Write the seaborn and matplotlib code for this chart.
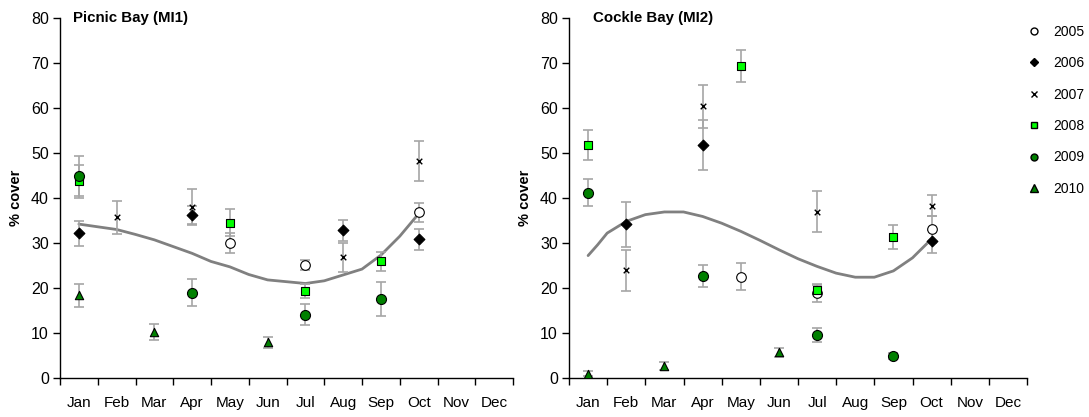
import numpy as np
import pandas as pd
import matplotlib
matplotlib.use("Agg")
import matplotlib.pyplot as plt
import seaborn as sns
from matplotlib.lines import Line2D

# ---------------- data ----------------
months = ["Jan", "Feb", "Mar", "Apr", "May", "Jun",
          "Jul", "Aug", "Sep", "Oct", "Nov", "Dec"]
years = ["2005", "2006", "2007", "2008", "2009", "2010"]

# Picnic Bay (MI1)
pb_2005_month = ["May", "Jul", "Oct"]
pb_2005_mean = [30.0, 25.1, 36.8]
pb_2005_err = [2.2, 1.2, 2.1]
pb_2006_month = ["Jan", "Apr", "Aug", "Oct"]
pb_2006_mean = [32.2, 36.2, 32.8, 30.8]
pb_2006_err = [2.8, 2.0, 2.3, 2.3]
pb_2007_month = ["Feb", "Apr", "Aug", "Oct"]
pb_2007_mean = [35.7, 38.0, 26.8, 48.2]
pb_2007_err = [3.6, 4.0, 3.2, 4.4]
pb_2008_month = ["Jan", "May", "Jul", "Sep"]
pb_2008_mean = [43.7, 34.5, 19.3, 25.9]
pb_2008_err = [3.6, 3.0, 1.6, 2.2]
pb_2009_month = ["Jan", "Apr", "Jul", "Sep"]
pb_2009_mean = [44.9, 19.0, 14.1, 17.5]
pb_2009_err = [4.4, 2.9, 2.4, 3.8]
pb_2010_month = ["Jan", "Mar", "Jun"]
pb_2010_mean = [18.4, 10.3, 7.9]
pb_2010_err = [2.6, 1.8, 1.2]
# trend line (month index, value)
pb_trend_x = [0, 0.5, 1, 1.5, 2, 2.5, 3, 3.5, 4, 4.5, 5, 5.5, 6, 6.5, 7, 7.5, 8, 8.5, 9]
pb_trend_y = [34.2, 33.6, 33.0, 31.9, 30.7, 29.2, 27.7, 25.9, 24.7, 23.0, 21.8, 21.4,
              21.0, 21.6, 22.9, 24.2, 27.3, 31.5, 36.5]

# Cockle Bay (MI2)
cb_2005_month = ["May", "Jul", "Oct"]
cb_2005_mean = [22.5, 18.9, 33.1]
cb_2005_err = [3.0, 2.0, 3.0]
cb_2006_month = ["Feb", "Apr", "Oct"]
cb_2006_mean = [34.2, 51.8, 30.4]
cb_2006_err = [5.0, 5.5, 2.6]
cb_2007_month = ["Feb", "Apr", "Jul", "Oct"]
cb_2007_mean = [23.9, 60.4, 37.0, 38.3]
cb_2007_err = [4.5, 4.8, 4.6, 2.4]
cb_2008_month = ["Jan", "May", "Jul", "Sep"]
cb_2008_mean = [51.8, 69.3, 19.6, 31.3]
cb_2008_err = [3.3, 3.6, 1.0, 2.6]
cb_2009_month = ["Jan", "Apr", "Jul", "Sep"]
cb_2009_mean = [41.2, 22.7, 9.6, 4.95]
cb_2009_err = [3.0, 2.5, 1.6, 0.7]
cb_2010_month = ["Jan", "Mar", "Jun"]
cb_2010_mean = [0.95, 2.6, 5.7]
cb_2010_err = [0.5, 0.9, 1.0]
cb_trend_x = [0, 0.25, 0.5, 1, 1.5, 2, 2.5, 3, 3.5, 4, 4.5, 5, 5.5, 6, 6.5, 7, 7.5, 8, 8.5, 9]
cb_trend_y = [27.2, 29.6, 32.2, 34.8, 36.3, 36.9, 36.9, 35.9, 34.4, 32.6, 30.6, 28.5, 26.5,
              24.8, 23.3, 22.4, 22.4, 23.8, 26.7, 30.9]

# ---------------- assemble ----------------
def build(prefix):
    g = globals()
    rows = []
    for yr in years:
        for m, v, e in zip(g[f"{prefix}_{yr}_month"], g[f"{prefix}_{yr}_mean"], g[f"{prefix}_{yr}_err"]):
            rows.append({"year": yr, "month": m, "x": months.index(m), "cover": v, "err": e})
    return pd.DataFrame(rows)

df_pb = build("pb")
df_cb = build("cb")

styles = {
    "2005": dict(marker="o", color="white", edgecolor="black", s=48),
    "2006": dict(marker="D", color="black", edgecolor="black", s=30),
    "2007": dict(marker="x", color="black", s=16),
    "2008": dict(marker="s", color="#00ff00", edgecolor="black", s=28),
    "2009": dict(marker="o", color="#008000", edgecolor="black", s=52),
    "2010": dict(marker="^", color="#008000", edgecolor="black", s=36),
}

sns.set_style("ticks")
plt.rcParams["font.family"] = ["Liberation Sans", "DejaVu Sans"]
plt.rcParams["text.color"] = "black"
plt.rcParams["axes.labelcolor"] = "black"
plt.rcParams["xtick.color"] = "black"
plt.rcParams["ytick.color"] = "black"
plt.rcParams["axes.edgecolor"] = "black"

fig = plt.figure(figsize=(10.89, 4.17), dpi=100)
ax1 = fig.add_axes([60 / 1089, 1 - 378 / 417, 453 / 1089, 360 / 417])
ax2 = fig.add_axes([569 / 1089, 1 - 378 / 417, 458 / 1089, 360 / 417])

panels = [(ax1, df_pb, pb_trend_x, pb_trend_y, "Picnic Bay (MI1)", 0.029),
          (ax2, df_cb, cb_trend_x, cb_trend_y, "Cockle Bay (MI2)", 0.052)]

for ax, df, tx, ty, title, tpos in panels:
    sns.lineplot(x=tx, y=ty, color="#808080", linewidth=2.0, ax=ax, zorder=1)
    ax.errorbar(df["x"], df["cover"], yerr=df["err"], fmt="none", ecolor="#a6a6a6",
                elinewidth=1.2, capsize=3.5, capthick=1.2, zorder=2)
    for yr in years:
        sub = df[df["year"] == yr]
        st = dict(styles[yr])
        if st["marker"] == "x":
            sns.scatterplot(data=sub, x="x", y="cover", marker="x", color="black",
                            s=st["s"], linewidth=1.0, ax=ax, zorder=3, legend=False)
        else:
            sns.scatterplot(data=sub, x="x", y="cover", marker=st["marker"], color=st["color"],
                            edgecolor=st["edgecolor"], linewidth=0.8, s=st["s"], ax=ax,
                            zorder=3, legend=False)
    ax.set_xlim(-0.5, 11.5)
    ax.set_ylim(0, 80)
    ax.set_yticks(np.arange(0, 81, 10))
    ax.set_xticks(range(12))
    ax.set_xticklabels(months)
    ax.set_xticks(np.arange(-0.5, 12, 1), minor=True)
    ax.tick_params(axis="x", which="major", length=0, pad=13, labelsize=11)
    ax.tick_params(axis="x", which="minor", length=5, width=1, direction="out")
    ax.tick_params(axis="y", length=5, width=1, direction="out", labelsize=11.5, pad=3)
    for sp in ["top", "right"]:
        ax.spines[sp].set_visible(False)
    for sp in ["left", "bottom"]:
        ax.spines[sp].set_linewidth(1.0)
        ax.spines[sp].set_color("black")
    ax.set_xlabel("")
    ax.set_ylabel("% cover", fontsize=10.5, fontweight="bold", labelpad=6)
    ax.text(tpos, 1.0, title, transform=ax.transAxes, fontsize=10.8, fontweight="bold",
            ha="left", va="center")

handles = [
    Line2D([], [], ls="none", marker="o", markerfacecolor="white", markeredgecolor="black", markersize=5),
    Line2D([], [], ls="none", marker="D", markerfacecolor="black", markeredgecolor="black", markersize=4.5),
    Line2D([], [], ls="none", marker="x", color="black", markersize=4.5, markeredgewidth=1),
    Line2D([], [], ls="none", marker="s", markerfacecolor="#00ff00", markeredgecolor="black", markersize=5),
    Line2D([], [], ls="none", marker="o", markerfacecolor="#008000", markeredgecolor="black", markersize=5),
    Line2D([], [], ls="none", marker="^", markerfacecolor="#008000", markeredgecolor="black", markersize=6),
]
fig.legend(handles, years, loc="upper left", bbox_to_anchor=(1027 / 1089, 1 - 25 / 417),
           frameon=False, fontsize=10, handlelength=1.0, handletextpad=0.9,
           labelspacing=1.25, borderpad=0, borderaxespad=0)

fig.savefig("out.png", dpi=100)
